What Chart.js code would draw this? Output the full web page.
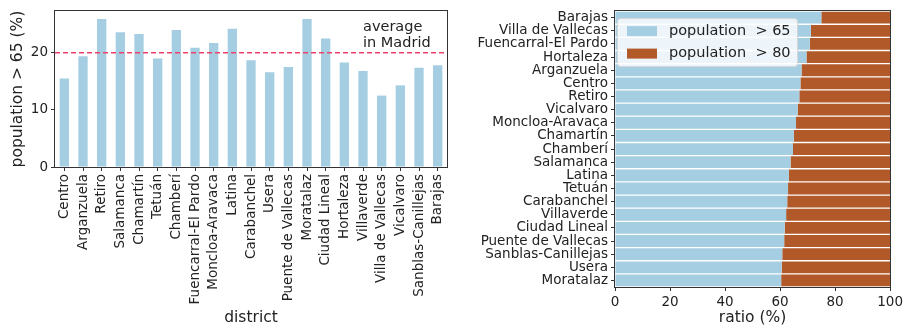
<!DOCTYPE html>
<html>
<head>
<meta charset="utf-8">
<script src="https://cdn.jsdelivr.net/npm/chart.js@4"></script>
<style>
    body { margin: 0; background: #fff; }
    .panels { position: relative; width: 906px; height: 328px; }
    #barChart { position: absolute; left: 0; top: 0; }
    #ratioChart { position: absolute; left: 460px; top: 0; }
</style>
</head>
<body>
<div class="panels">
    <canvas id="barChart" width="460" height="328"></canvas>
    <canvas id="ratioChart" width="446" height="328"></canvas>
</div>
<script>
// share of population over 65, by district
const districts = ['Centro', 'Arganzuela', 'Retiro', 'Salamanca', 'Chamartín', 'Tetuán', 'Chamberí',
    'Fuencarral-El Pardo', 'Moncloa-Aravaca', 'Latina', 'Carabanchel', 'Usera', 'Puente de Vallecas',
    'Moratalaz', 'Ciudad Lineal', 'Hortaleza', 'Villaverde', 'Villa de Vallecas', 'Vicalvaro',
    'Sanblas-Canillejas', 'Barajas'];
const over65 = [15.5, 19.4, 25.9, 23.6, 23.3, 19.0, 24.0, 20.9, 21.7, 24.2, 18.7, 16.6, 17.5,
    25.9, 22.5, 18.3, 16.8, 12.5, 14.3, 17.4, 17.8];
const madridAverage = 20;
const noteLines = ['average', 'in Madrid'];
const noteAt = [16, 21]; // category index, value

// split of the elderly population, sorted by the > 65 share
const rankedDistricts = ['Barajas', 'Villa de Vallecas', 'Fuencarral-El Pardo', 'Hortaleza', 'Arganzuela',
    'Centro', 'Retiro', 'Vicalvaro', 'Moncloa-Aravaca', 'Chamartín', 'Chamberí', 'Salamanca', 'Latina',
    'Tetuán', 'Carabanchel', 'Villaverde', 'Ciudad Lineal', 'Puente de Vallecas', 'Sanblas-Canillejas',
    'Usera', 'Moratalaz'];
const ratio65 = [75.0, 71.2, 70.8, 69.6, 67.8, 67.4, 67.0, 66.4, 65.8, 65.0, 64.7, 63.8, 63.2,
    62.9, 62.6, 62.2, 61.7, 61.5, 60.8, 60.6, 60.4];
const ratio80 = [25.0, 28.8, 29.2, 30.4, 32.2, 32.6, 33.0, 33.6, 34.2, 35.0, 35.3, 36.2, 36.8,
    37.1, 37.4, 37.8, 38.3, 38.5, 39.2, 39.4, 39.6];
const ratioTicks = [0, 20, 40, 60, 80, 100];

const FONT = '"DejaVu Sans", sans-serif';
const INK = '#222';
const BLUE = '#a6cee3';
const BROWN = '#b15928';

Chart.defaults.font.family = FONT;
Chart.defaults.color = INK;
Chart.defaults.animation = false;

// axes box drawn on top of the bars
const frame = {
    id: 'frame',
    afterDatasetsDraw(chart) {
        const {ctx, chartArea: a} = chart;
        ctx.save();
        ctx.strokeStyle = '#333';
        ctx.lineWidth = 1;
        ctx.strokeRect(Math.round(a.left) - 0.5, Math.round(a.top) - 0.5,
            Math.round(a.right - a.left) + 1, Math.round(a.bottom - a.top) + 1);
        ctx.restore();
    }
};

const averageLine = {
    id: 'averageLine',
    afterDatasetsDraw(chart) {
        const {ctx, chartArea: a, scales: {x, y}} = chart;
        const py = y.getPixelForValue(madridAverage);
        ctx.save();
        ctx.strokeStyle = '#f0436b';
        ctx.lineWidth = 1.5;
        ctx.setLineDash([5, 3]);
        ctx.beginPath();
        ctx.moveTo(a.left, py);
        ctx.lineTo(a.right, py);
        ctx.stroke();
        ctx.setLineDash([]);

        ctx.fillStyle = INK;
        ctx.font = '14.5px ' + FONT;
        ctx.textAlign = 'left';
        ctx.textBaseline = 'alphabetic';
        const tx = x.getPixelForValue(noteAt[0]);
        const ty = y.getPixelForValue(noteAt[1]);
        noteLines.forEach((line, i) => {
            ctx.fillText(line, tx, ty - (noteLines.length - 1 - i) * 16);
        });
        ctx.restore();
    }
};

const boxLegend = {
    id: 'boxLegend',
    afterDatasetsDraw(chart) {
        const {ctx, chartArea: a} = chart;
        const x0 = a.left + 2, y0 = a.top + 7;
        ctx.save();
        ctx.fillStyle = 'rgba(255,255,255,0.8)';
        ctx.strokeStyle = '#d6d6d6';
        ctx.lineWidth = 1;
        ctx.beginPath();
        ctx.roundRect(x0 + 0.5, y0 + 0.5, 180, 48, 3);
        ctx.fill();
        ctx.stroke();
        ctx.font = '14.5px ' + FONT;
        ctx.textBaseline = 'middle';
        chart.data.datasets.forEach((ds, i) => {
            const rowY = y0 + 13 + i * 22.5;
            ctx.fillStyle = ds.backgroundColor;
            ctx.fillRect(x0 + 10, rowY - 5, 30, 10);
            ctx.fillStyle = INK;
            ctx.fillText(ds.label, x0 + 52, rowY);
        });
        ctx.restore();
    }
};

const tickGrid = {
    drawOnChartArea: false,
    drawTicks: true,
    tickLength: 4,
    color: '#333',
    offset: false
};

new Chart(document.getElementById('barChart').getContext('2d'), {
    type: 'bar',
    data: {
        labels: districts,
        datasets: [{
            data: over65,
            backgroundColor: BLUE,
            barPercentage: 0.5,
            categoryPercentage: 1
        }]
    },
    options: {
        responsive: false,
        devicePixelRatio: 1,
        layout: {padding: {top: 9, right: 13, left: 0, bottom: 0}},
        plugins: {legend: {display: false}, tooltip: {enabled: false}},
        scales: {
            x: {
                grid: tickGrid,
                border: {display: false},
                ticks: {autoSkip: false, maxRotation: 90, minRotation: 90, font: {size: 13.5}, padding: 3},
                title: {display: true, text: 'district', font: {size: 15.5}, padding: {top: 0, bottom: 1}},
                afterFit: (scale) => { scale.height = 161; }
            },
            y: {
                min: 0,
                max: 27.3,
                grid: tickGrid,
                border: {display: false},
                ticks: {stepSize: 10, font: {size: 13.5}, padding: 3},
                afterBuildTicks: (scale) => {
                    scale.ticks = scale.ticks.filter(t => t.value % 10 === 0);
                },
                title: {display: true, text: 'population > 65 (%)', font: {size: 15.5}, padding: {top: 9, bottom: 0}},
                afterFit: (scale) => { scale.width = 55; }
            }
        }
    },
    plugins: [averageLine, frame]
});

new Chart(document.getElementById('ratioChart').getContext('2d'), {
    type: 'bar',
    data: {
        labels: rankedDistricts,
        datasets: [
            {label: 'population  > 65', data: ratio65, backgroundColor: BLUE, barPercentage: 0.9, categoryPercentage: 1},
            {label: 'population  > 80', data: ratio80, backgroundColor: BROWN, barPercentage: 0.9, categoryPercentage: 1}
        ]
    },
    options: {
        indexAxis: 'y',
        responsive: false,
        devicePixelRatio: 1,
        layout: {padding: {top: 8, right: 14, left: 0, bottom: 0}},
        plugins: {legend: {display: false}, tooltip: {enabled: false}},
        scales: {
            x: {
                stacked: true,
                min: 0,
                max: 100,
                grid: tickGrid,
                border: {display: false},
                afterBuildTicks: (scale) => {
                    scale.ticks = ratioTicks.map(v => ({value: v}));
                },
                ticks: {font: {size: 13.5}, padding: 3},
                title: {display: true, text: 'ratio (%)', font: {size: 15.5}, padding: {top: 0, bottom: 1}},
                afterFit: (scale) => { scale.height = 41; }
            },
            y: {
                stacked: true,
                grid: tickGrid,
                border: {display: false},
                ticks: {autoSkip: false, font: {size: 13.5}, padding: 3},
                afterFit: (scale) => { scale.width = 155; }
            }
        }
    },
    plugins: [frame, boxLegend]
});
</script>
</body>
</html>
